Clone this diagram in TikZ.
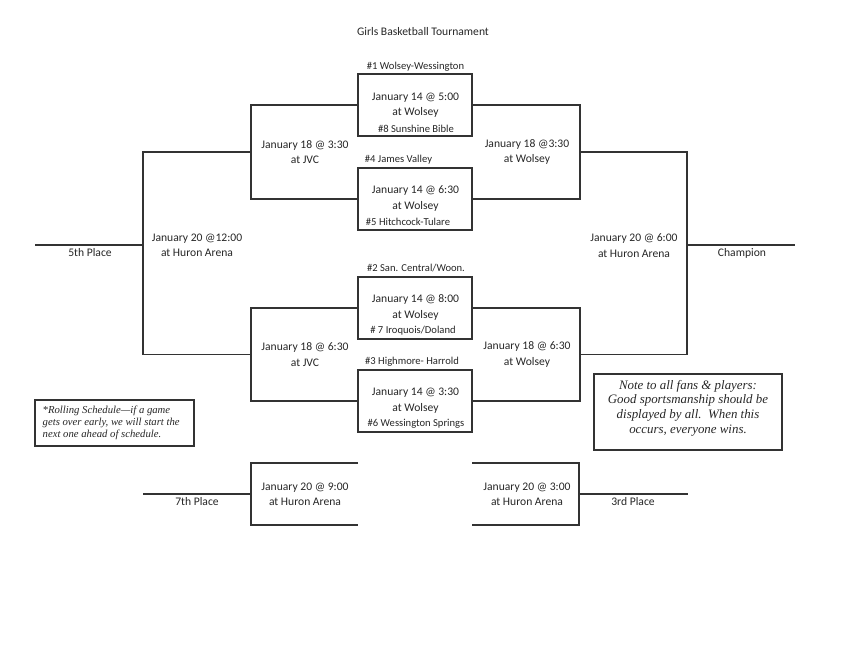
\documentclass[tikz,border=0pt]{standalone}
\usepackage{fontspec}
\setmainfont{Carlito}
\newfontfamily\notefont{Liberation Serif}
\definecolor{ink}{HTML}{333333}
\definecolor{txtc}{HTML}{262626}
\begin{document}
\begin{tikzpicture}[x=1pt,y=-1pt,
  line/.style={draw=ink,line width=1.2pt},
  gamebox/.style={line,minimum width=114pt,minimum height=62pt,inner sep=0pt},
  txt/.style={text=txtc,font=\fontsize{11.6}{15.5}\selectfont,inner sep=0pt,align=center},
  seed/.style={text=txtc,font=\fontsize{10.6}{13}\selectfont,inner sep=0pt},
  notebox/.style={line,inner sep=0pt},
  notetxt/.style={text=txtc,inner sep=0pt}]
\useasboundingbox (0,0) rectangle (850,656);

\node[txt] (title) at (423,32) {Girls Basketball Tournament};

% first-round boxes
\node[gamebox] (b1) at (415,105) {};
\node[gamebox] (b2) at (415,199) {};
\node[gamebox] (b3) at (415,308) {};
\node[gamebox] (b4) at (415,401) {};

% texts in boxes
\node[txt] (t1) at (415.5,105) {January 14 @ 5:00\\at Wolsey};
\node[seed] (s8) at (416,129) {\#8 Sunshine Bible};
\node[txt] (t2) at (415.5,198.5) {January 14 @ 6:30\\at Wolsey};
\node[seed] (s5) at (408,222) {\#5 Hitchcock-Tulare};
\node[txt] (t3) at (415.5,307.5) {January 14 @ 8:00\\at Wolsey};
\node[seed] (s7) at (413,331) {\# 7 Iroquois/Doland};
\node[txt] (t4) at (415.5,400.5) {January 14 @ 3:30\\at Wolsey};
\node[seed] (s6) at (416,424) {\#6 Wessington Springs};

% seeds above boxes
\node[seed] (s1) at (415.5,67) {\#1 Wolsey-Wessington};
\node[seed] (s4) at (398.5,160) {\#4 James Valley};
\node[seed] (s2) at (416,268) {\#2 San. Central/Woon.};
\node[seed] (s3) at (412,362) {\#3 Highmore- Harrold};

% bracket joints
\coordinate (qa) at (251,152);
\coordinate (qb) at (580,152);
\coordinate (qc) at (251,354.5);
\coordinate (qd) at (580,354.5);
\coordinate (fl) at (143,245);
\coordinate (fr) at (687,245);
\coordinate (p5) at (35,245);
\coordinate (pc) at (795,245);

\draw[line] (b1.west) -| (qa) |- (b2.west);
\draw[line] (b1.east) -| (qb) |- (b2.east);
\draw[line] (b3.west) -| (qc) |- (b4.west);
\draw[line] (b3.east) -| (qd) |- (b4.east);
\draw[line] (qa) -| (fl) |- (qc);
\draw[line] (qb) -| (fr) |- (qd);
\draw[line] (fl) -- (p5);
\draw[line] (fr) -- (pc);

% second round texts
\node[txt] (g5) at (305,152) {January 18 @ 3:30\\at JVC};
\node[txt] (g6) at (527,152) {January 18 @3:30\\at Wolsey};
\node[txt] (g7) at (305,354.5) {January 18 @ 6:30\\at JVC};
\node[txt] (g8) at (527,354.5) {January 18 @ 6:30\\at Wolsey};
\node[txt] (g9) at (197,245.5) {January 20 @12:00\\at Huron Arena};
\node[txt] (g10) at (634,245.5) {January 20 @ 6:00\\at Huron Arena};
\node[txt] (l5) at (90,253) {5th Place};
\node[txt] (lc) at (742,253) {Champion};

% bottom brackets
\coordinate (l7a) at (358,463);
\coordinate (l7b) at (358,525);
\coordinate (l7m) at (251,494);
\coordinate (p7) at (143,494);
\coordinate (r3a) at (472,463);
\coordinate (r3b) at (472,525);
\coordinate (r3m) at (579,494);
\coordinate (p3) at (688,494);
\draw[line] (l7a) -| (l7m) |- (l7b);
\draw[line] (l7m) -- (p7);
\draw[line] (r3a) -| (r3m) |- (r3b);
\draw[line] (r3m) -- (p3);
\node[txt] (g11) at (305,494.5) {January 20 @ 9:00\\at Huron Arena};
\node[txt] (g12) at (527,494.5) {January 20 @ 3:00\\at Huron Arena};
\node[txt] (l7) at (197,502) {7th Place};
\node[txt] (l3) at (633,502) {3rd Place};

% notes
\node[notebox,minimum width=159pt,minimum height=46pt] (roll) at (114.5,423) {};
\node[notetxt,anchor=west,align=left,font=\notefont\itshape\fontsize{10.7}{12}\selectfont] (rollt) at (42.5,423)
  {*Rolling Schedule—if a game\\gets over early, we will start the\\next one ahead of schedule.};
\node[notebox,minimum width=188pt,minimum height=76pt] (note) at (688,412) {};
\node[notetxt,align=center,font=\notefont\itshape\fontsize{12.9}{14.7}\selectfont] (notet) at (688,408)
  {Note to all fans \& players:\\Good sportsmanship should be\\displayed by all.\ \ When this\\occurs, everyone wins.};
\end{tikzpicture}
\end{document}
